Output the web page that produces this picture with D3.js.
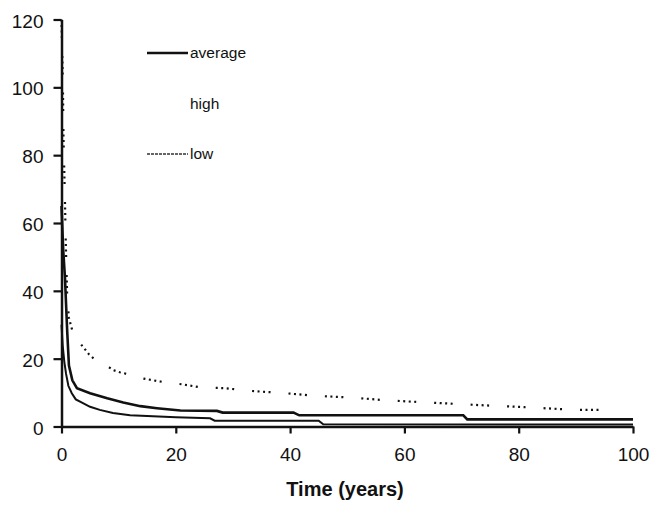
<!DOCTYPE html>
<html>
<head>
<meta charset="utf-8">
<script src="https://cdn.jsdelivr.net/npm/d3@7/dist/d3.min.js"></script>
<style>
  html, body { margin: 0; padding: 0; background: #fff; }
  svg { display: block; }
  text { font-family: "Liberation Sans", Arial, sans-serif; fill: #111; }
</style>
</head>
<body>
<script>
// ---- Data ----
const averageTime  = [0, 0.3, 0.6, 1.0, 1.3, 1.9, 2.7, 5, 8, 10.8, 13.8, 16.7, 20.8, 27.2, 28.2, 40.6, 41.6, 70.3, 71.0, 100];
const averageValue = [65, 52, 44, 28, 18, 13.6, 11.3, 9.8, 8.3, 7.1, 6.0, 5.4, 4.7, 4.6, 4.1, 4.1, 3.3, 3.3, 2.1, 2.1];

const highTime  = [0, 0.25, 0.35, 0.6, 0.75, 1.0, 1.3, 2.1, 4.8, 5.8, 6.8, 8, 9.1, 10.2, 11, 13.1, 16.1, 18.2, 21.3, 24.1, 28.5, 33, 38.5, 44, 51, 57, 64, 72, 81, 90, 95];
const highValue = [120, 100, 85, 67, 54, 38, 32, 27, 21.3, 19.8, 18.7, 17.8, 16.6, 16.0, 15.7, 14.5, 13.6, 13.0, 12.4, 11.6, 11.3, 10.5, 9.9, 9.1, 8.5, 7.7, 7.1, 6.4, 5.7, 4.9, 4.9];

const lowTime  = [0, 0.2, 0.5, 0.8, 1.2, 1.8, 2.5, 3.5, 5, 6.7, 9, 12, 16, 20, 26, 26.8, 45, 45.8, 100];
const lowValue = [30, 24, 19, 15.5, 12, 9.8, 8, 7.1, 5.8, 4.9, 4.0, 3.3, 3.0, 2.7, 2.4, 1.7, 1.7, 0.65, 0.6];

const xTicks = [0, 20, 40, 60, 80, 100];
const yTicks = [0, 20, 40, 60, 80, 100, 120];
const legendLabels = ["average", "high", "low"];
const xTitle = "Time (years)";

// ---- Layout ----
const W = 653, H = 505;
const svg = d3.select("body").append("svg").attr("width", W).attr("height", H);

const x = d3.scaleLinear().domain([0, 100]).range([61.5, 633]);
const y = d3.scaleLinear().domain([0, 120]).range([426.5, 19.5]);

const ink = "#111";

// Axes
const xAxis = svg.append("g")
  .attr("transform", `translate(0,${y(0)})`)
  .call(d3.axisBottom(x).tickValues(xTicks).tickSize(7).tickSizeOuter(0).tickPadding(14));
const yAxis = svg.append("g")
  .attr("transform", `translate(${x(0)},0)`)
  .call(d3.axisLeft(y).tickValues(yTicks).tickSize(8).tickSizeOuter(0).tickPadding(10));

[xAxis, yAxis].forEach(g => {
  g.select(".domain").attr("stroke", ink).attr("stroke-width", 2.5);
  g.selectAll(".tick line").attr("stroke", ink).attr("stroke-width", 2.2);
  g.selectAll(".tick text")
    .attr("fill", ink)
    .style("font-size", "19px")
    .style("font-family", "'Liberation Sans', Arial, sans-serif");
});
yAxis.selectAll(".tick text").attr("dy", "0.4em");

// Lines
const line = d3.line().x(d => x(d[0])).y(d => y(d[1]));
const zip = (a, b) => a.map((t, i) => [t, b[i]]);

svg.append("path")
  .datum(zip(lowTime, lowValue))
  .attr("d", line)
  .attr("fill", "none")
  .attr("stroke", ink)
  .attr("stroke-width", 2);

svg.append("path")
  .datum(zip(averageTime, averageValue))
  .attr("d", line)
  .attr("fill", "none")
  .attr("stroke", ink)
  .attr("stroke-width", 2.6);

svg.append("path")
  .datum(zip(highTime, highValue))
  .attr("d", line)
  .attr("fill", "none")
  .attr("stroke", ink)
  .attr("stroke-width", 2.2)
  .attr("stroke-dasharray", "2,3.5,2,3.5,2,3.5,2,18");

// Legend
const legend = svg.append("g");
const legY = [53, 104, 154];
// average sample
legend.append("line")
  .attr("x1", 147).attr("x2", 188).attr("y1", legY[0]).attr("y2", legY[0])
  .attr("stroke", ink).attr("stroke-width", 2.6);
// low sample
legend.append("line")
  .attr("x1", 147).attr("x2", 188).attr("y1", legY[2]).attr("y2", legY[2])
  .attr("stroke", "#333").attr("stroke-width", 1.3).attr("stroke-dasharray", "3,1");

legend.selectAll("text.leg")
  .data(legendLabels)
  .join("text")
  .attr("class", "leg")
  .attr("x", 190)
  .attr("y", (d, i) => legY[i] + 5)
  .style("font-size", "15.5px")
  .text(d => d);

// Axis title
svg.append("text")
  .attr("x", 345)
  .attr("y", 496)
  .attr("text-anchor", "middle")
  .style("font-size", "20px")
  .style("font-weight", "bold")
  .text(xTitle);
</script>
</body>
</html>
